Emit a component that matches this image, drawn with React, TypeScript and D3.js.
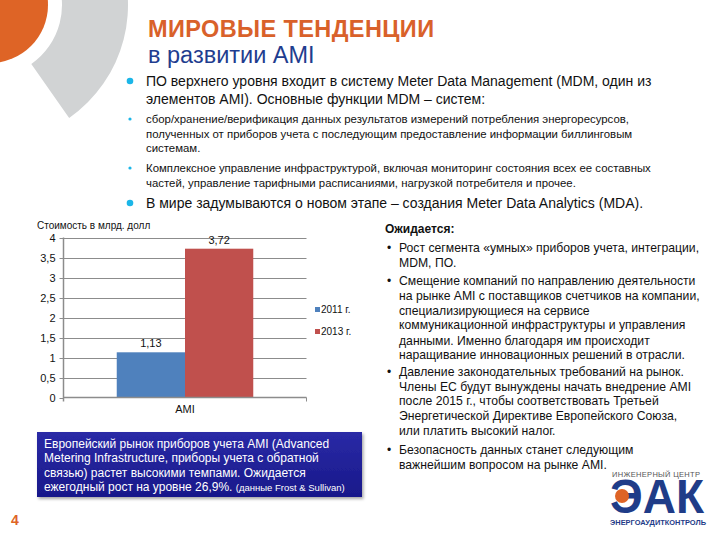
import React from "react";
import * as d3 from "d3";

const categories = ["AMI"];
const seriesNames = ["2011 г.", "2013 г."];
const seriesValues = [1.13, 3.72];
const seriesLabels = ["1,13", "3,72"];
const seriesColors = ["#4F81BD", "#C0504D"];
const yTicks = [0, 0.5, 1, 1.5, 2, 2.5, 3, 3.5, 4];
const yTickLabels = ["0", "0,5", "1", "1,5", "2", "2,5", "3", "3,5", "4"];
const yAxisTitle = "Стоимость в млрд. долл";

const titleLine1 = "МИРОВЫЕ ТЕНДЕНЦИИ";
const titleLine2 = "в развитии AMI";

const mainLines = [
  { t: "ПО верхнего уровня входит в систему Meter Data Management (MDM, один из", y: 86, size: 14, bullet: "big" },
  { t: "элементов AMI). Основные функции MDM – систем:", y: 104, size: 14, bullet: "" },
  { t: "сбор/хранение/верификация данных результатов измерений потребления энергоресурсов,", y: 123, size: 11.4, bullet: "small" },
  { t: "полученных от приборов учета с последующим предоставление информации биллинговым", y: 137.5, size: 11.4, bullet: "" },
  { t: "системам.", y: 152, size: 11.4, bullet: "" },
  { t: "Комплексное управление инфраструктурой, включая мониторинг состояния всех ее составных", y: 172, size: 11.4, bullet: "small" },
  { t: "частей, управление тарифными расписаниями, нагрузкой потребителя и прочее.", y: 186.5, size: 11.4, bullet: "" },
  { t: "В мире задумываются о новом этапе – создания Meter Data Analytics (MDA).", y: 208, size: 14, bullet: "big" },
];

const rightLines = [
  { t: "Рост сегмента «умных» приборов учета, интеграции,", y: 252, b: true },
  { t: "MDM, ПО.", y: 267, b: false },
  { t: "Смещение компаний по направлению деятельности", y: 285, b: true },
  { t: "на рынке AMI с поставщиков счетчиков на компании,", y: 300, b: false },
  { t: "специализирующиеся на сервисе", y: 314.5, b: false },
  { t: "коммуникационной инфраструктуры и управления", y: 329, b: false },
  { t: "данными. Именно благодаря им происходит", y: 344.5, b: false },
  { t: "наращивание инновационных решений в отрасли.", y: 359, b: false },
  { t: "Давление законодательных требований на рынок.", y: 376, b: true },
  { t: "Члены ЕС будут вынуждены начать внедрение AMI", y: 390.5, b: false },
  { t: "после 2015 г., чтобы соответствовать Третьей", y: 405, b: false },
  { t: "Энергетической Директиве Европейского Союза,", y: 420, b: false },
  { t: "или платить высокий налог.", y: 434.5, b: false },
  { t: "Безопасность данных станет следующим", y: 454, b: true },
  { t: "важнейшим вопросом на рынке AMI.", y: 469, b: false },
];

const boxLines = [
  "Европейский рынок приборов учета AMI (Advanced",
  "Metering Infrastructure, приборы учета с обратной",
  "связью) растет высокими темпами. Ожидается",
];
const boxLastMain = "ежегодный рост на уровне 26,9%. ";
const boxLastSmall = "(данные Frost & Sullivan)";

const FONT = "'Liberation Sans', Arial, sans-serif";

export default function App() {
  const plotLeft = 63.5;
  const plotRight = 306.5;
  const y = d3.scaleLinear().domain([0, 4]).range([397.5, 237.5]);
  const x0 = d3.scaleBand().domain(categories).range([plotLeft, plotRight]).paddingInner(0).paddingOuter(0.39);
  const x1 = d3.scaleBand().domain(seriesNames).range([0, x0.bandwidth()]).padding(0);

  const decoArc = d3.arc()({
    innerRadius: 72,
    outerRadius: 138,
    startAngle: -0.3,
    endAngle: (145 * Math.PI) / 180,
  }) as string;
  const orangeArc = d3.arc()({ innerRadius: 0, outerRadius: 58, startAngle: 0, endAngle: 2 * Math.PI }) as string;

  return (
    <svg width={720} height={540} style={{ position: "absolute", left: 0, top: 0, background: "#fff" }} fontFamily={FONT}>
      <defs>
        <linearGradient id="boxg" x1="0" y1="0" x2="0" y2="1">
          <stop offset="0" stopColor="#2a2aa6" />
          <stop offset="1" stopColor="#18188a" />
        </linearGradient>
        <filter id="sh" x="-5%" y="-10%" width="112%" height="130%">
          <feDropShadow dx="1.5" dy="2" stdDeviation="1.5" floodColor="#000" floodOpacity="0.35" />
        </filter>
      </defs>
      <rect x={0} y={0} width={720} height={540} fill="#fff" />

      {/* decoration */}
      <g transform="translate(-10,5)">
        <path d={decoArc} fill="#d1d3d4" />
        <path d={orangeArc} fill="#de6426" />
      </g>

      {/* title */}
      <text x={148} y={37} fontSize={23.5} fontWeight="bold" fill="#d9612a" letterSpacing={0.4}>{titleLine1}</text>
      <text x={148} y={63} fontSize={23.5} fill="#1f3d8f">{titleLine2}</text>

      {/* main bullets */}
      {mainLines.map((l, i) => (
        <g key={i}>
          {l.bullet === "big" && <circle cx={130} cy={l.y - 5} r={3.3} fill="#1bb6e8" />}
          {l.bullet === "small" && <circle cx={130} cy={l.y - 4} r={1.6} fill="#1bb6e8" />}
          <text x={146} y={l.y} fontSize={l.size} fill="#111">{l.t}</text>
        </g>
      ))}

      {/* chart */}
      <g>
        {yTicks.map((t, i) => (
          <g key={i}>
            {i > 0 && <line x1={plotLeft} x2={plotRight} y1={Math.round(y(t)) + 0.5} y2={Math.round(y(t)) + 0.5} stroke="#8c8c8c" strokeWidth={1} />}
            <line x1={plotLeft - 4} x2={plotLeft} y1={Math.round(y(t)) + 0.5} y2={Math.round(y(t)) + 0.5} stroke="#8c8c8c" />
            <text x={plotLeft - 8} y={y(t) + 4} fontSize={11} textAnchor="end" fill="#111">{yTickLabels[i]}</text>
          </g>
        ))}
        {categories.map((c) => (
          <g key={c}>
            {seriesNames.map((s, j) => {
              const bx = (x0(c) as number) + (x1(s) as number);
              return (
                <g key={s}>
                  <rect x={bx} y={y(seriesValues[j])} width={x1.bandwidth()} height={y(0) - y(seriesValues[j])} fill={seriesColors[j]} />
                  <text x={bx + x1.bandwidth() / 2} y={y(seriesValues[j]) - 5} fontSize={11} textAnchor="middle" fill="#111">{seriesLabels[j]}</text>
                </g>
              );
            })}
            <text x={(x0(c) as number) + x0.bandwidth() / 2} y={413} fontSize={11} textAnchor="middle" fill="#111">{c}</text>
          </g>
        ))}
        <line x1={plotLeft} x2={plotLeft} y1={y(4)} y2={y(0) + 4} stroke="#8c8c8c" strokeWidth={1.5} />
        <line x1={plotLeft} x2={plotRight} y1={397.5} y2={397.5} stroke="#8c8c8c" strokeWidth={1.5} />
        <line x1={plotRight} x2={plotRight} y1={397.5} y2={401.5} stroke="#8c8c8c" />
        <text x={37} y={228.5} fontSize={10} fill="#111">{yAxisTitle}</text>
        {seriesNames.map((s, j) => (
          <g key={s}>
            <rect x={315} y={307 + j * 22} width={5} height={5} fill={seriesColors[j]} />
            <text x={321} y={313 + j * 22} fontSize={10} fill="#111">{s}</text>
          </g>
        ))}
      </g>

      {/* right column */}
      <text x={385} y={233} fontSize={12} fontWeight="bold" fill="#111">Ожидается:</text>
      {rightLines.map((l, i) => (
        <g key={i}>
          {l.b && <text x={387} y={l.y} fontSize={12} fill="#111">•</text>}
          <text x={399} y={l.y} fontSize={12.2} fill="#111">{l.t}</text>
        </g>
      ))}

      {/* blue box */}
      <rect x={37} y={432} width={325} height={65} fill="url(#boxg)" filter="url(#sh)" />
      {boxLines.map((t, i) => (
        <text key={i} x={44} y={448 + i * 14.3} fontSize={12} fill="#fff">{t}</text>
      ))}
      <text x={44} y={491} fontSize={12} fill="#fff">
        {boxLastMain}
        <tspan fontSize={9.5}>{boxLastSmall}</tspan>
      </text>

      {/* page number */}
      <text x={11} y={525} fontSize={14} fontWeight="bold" fill="#de6426">4</text>

      {/* logo */}
      <text x={612} y={477} fontSize={7.5} fill="#555" textLength={88} lengthAdjust="spacing">ИНЖЕНЕРНЫЙ ЦЕНТР</text>
      <text x={610} y={513} fontSize={48} fontWeight="bold" fill="#1f3c88" textLength={94} lengthAdjust="spacingAndGlyphs">ЭАК</text>
      <circle cx={622} cy={496} r={7} fill="#de6426" />
      <text x={610} y={525} fontSize={7} fontWeight="bold" fill="#1f3c88" textLength={96} lengthAdjust="spacingAndGlyphs">ЭНЕРГОАУДИТКОНТРОЛЬ</text>
    </svg>
  );
}
